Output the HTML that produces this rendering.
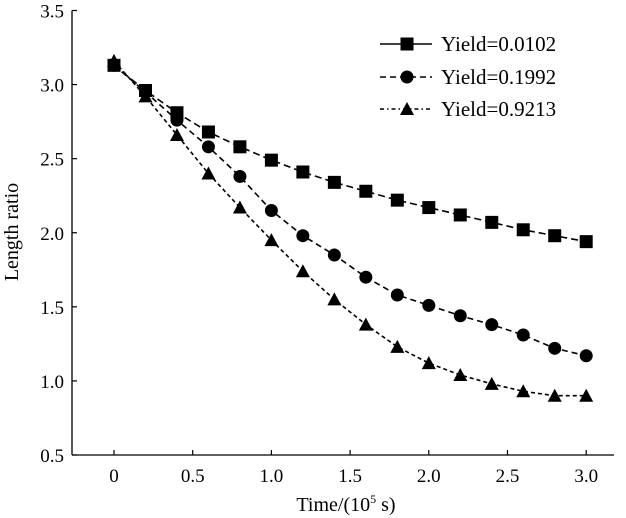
<!DOCTYPE html>
<html><head><meta charset="utf-8"><style>
html,body{margin:0;padding:0;background:#fff;}
svg{display:block;font-family:"Liberation Serif",serif;}
</style></head><body>
<svg id="chart" width="626" height="518" viewBox="0 0 626 518" xmlns="http://www.w3.org/2000/svg">
<g id="axes"></g><g id="series"></g>
<g>
 <g>
  <line x1="380" y1="44" x2="432" y2="44" stroke="#000" stroke-width="1.6"/>
  <rect x="400.5" y="37.5" width="13" height="13" fill="#000"/>
  <text x="441" y="51" font-size="21">Yield=0.0102</text></g>
 <g>
  <line x1="380" y1="77" x2="432" y2="77" stroke="#000" stroke-width="1.6" stroke-dasharray="6,4"/>
  <circle cx="407" cy="77" r="6.5" fill="#000"/>
  <text x="441" y="84" font-size="21">Yield=0.1992</text></g>
 <g>
  <line x1="380" y1="109" x2="432" y2="109" stroke="#000" stroke-width="1.6" stroke-dasharray="4,3,1.5,3"/>
  <polygon points="407,102 414,115 400,115" fill="#000"/>
  <text x="441" y="116" font-size="21">Yield=0.9213</text></g>
</g>
</svg>
<script>
const xs = [0,0.2,0.4,0.6,0.8,1.0,1.2,1.4,1.6,1.8,2.0,2.2,2.4,2.6,2.8,3.0];
const ySquare = [3.13,2.96,2.81,2.68,2.58,2.49,2.41,2.34,2.28,2.22,2.17,2.12,2.07,2.02,1.98,1.94];
const yCircle = [3.13,2.95,2.76,2.58,2.38,2.15,1.98,1.85,1.70,1.58,1.51,1.44,1.38,1.31,1.22,1.17];
const yTriangle = [3.16,2.92,2.66,2.40,2.17,1.95,1.74,1.55,1.38,1.23,1.12,1.04,0.98,0.93,0.90,0.90];
const xTicks = [0,0.5,1.0,1.5,2.0,2.5,3.0];
const xTickLabels = ["0","0.5","1.0","1.5","2.0","2.5","3.0"];
const yTicks = [0.5,1.0,1.5,2.0,2.5,3.0,3.5];
const yTickLabels = ["0.5","1.0","1.5","2.0","2.5","3.0","3.5"];

const NS="http://www.w3.org/2000/svg";
const L=72,R=614,B=455,T=10.5;
const X=v=>114+v*157.4;
const Y=v=>B-(v-0.5)*(B-T)/3;
function mk(tag,attrs,parent){const e=document.createElementNS(NS,tag);for(const k in attrs)e.setAttribute(k,attrs[k]);parent.appendChild(e);return e;}
const ax=document.getElementById('axes');
let e=mk('line',{x1:L,y1:T,x2:L,y2:B,stroke:'#000','stroke-width':1.3},ax);


e=mk('line',{x1:L,y1:B,x2:R,y2:B,stroke:'#000','stroke-width':1.3},ax);


xTicks.forEach((v,i)=>{
 mk('line',{x1:X(v),y1:B,x2:X(v),y2:B-5,stroke:'#000','stroke-width':1.2},ax);
 const t=mk('text',{x:X(v),y:482,'font-size':19,'text-anchor':'middle'},ax);
 t.textContent=xTickLabels[i];
 
 
});
yTicks.forEach((v,i)=>{
 mk('line',{x1:L,y1:Y(v),x2:L+5,y2:Y(v),stroke:'#000','stroke-width':1.2},ax);
 const t=mk('text',{x:L-8,y:Y(v)+7,'font-size':19,'text-anchor':'end'},ax);
 t.textContent=yTickLabels[i];
 
 
});
let t=mk('text',{x:346,y:511,'font-size':20,'text-anchor':'middle'},ax);
t.innerHTML='Time/(10<tspan dy="-8" font-size="12">5</tspan><tspan dy="8"> s)</tspan>';


t=mk('text',{x:0,y:0,'font-size':20,'text-anchor':'middle',transform:'translate(18,232) rotate(-90)'},ax);
t.textContent='Length ratio';



const sg=document.getElementById('series');
function series(ys,dash,marker,name){
 const g=mk('g',{},sg);
 
 
 const pts=xs.map((x,i)=>X(x)+','+Y(ys[i])).join(' ');
 mk('polyline',{points:pts,fill:'none',stroke:'#000','stroke-width':1.6,'stroke-dasharray':dash},g);
 xs.forEach((x,i)=>{
  const cx=X(x),cy=Y(ys[i]);let m;
  if(marker==='s')m=mk('rect',{x:cx-6.5,y:cy-6.5,width:13,height:13,fill:'#000'},g);
  else if(marker==='c')m=mk('circle',{cx:cx,cy:cy,r:6.5,fill:'#000'},g);
  else m=mk('polygon',{points:`${cx},${cy-7} ${cx+7},${cy+6} ${cx-7},${cy+6}`,fill:'#000'},g);
  
  
 });
}
series(ySquare,'7,4','s','series-yield-0.0102');
series(yCircle,'6,4','c','series-yield-0.1992');
series(yTriangle,'4,3','t','series-yield-0.9213');
</script>
</body></html>
